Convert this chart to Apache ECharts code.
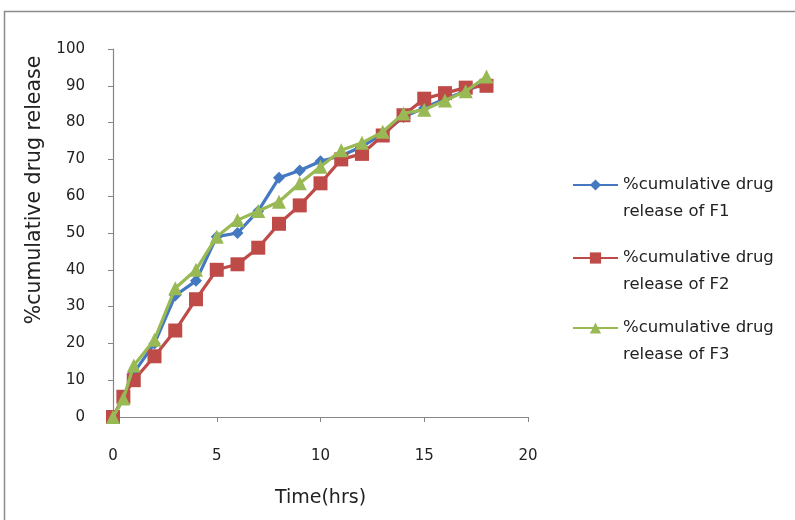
<!DOCTYPE html>
<html>
<head>
<meta charset="utf-8">
<script src="https://cdn.jsdelivr.net/npm/echarts@6/dist/echarts.min.js"></script>
<style>html,body{margin:0;padding:0;background:#fff;}#c{width:795px;height:520px;}</style>
</head>
<body>
<div id="c"></div>
<script>
const timeHrs = [0, 0.5, 1, 2, 3, 4, 5, 6, 7, 8, 9, 10, 11, 12, 13, 14, 15, 16, 17, 18];
const releaseF1 = [0, 5, 12, 20, 33, 37, 49, 50, 56, 65, 67, 69.5, 71, 73.5, 77, 81.5, 84, 86.5, 88.5, 91];
const releaseF2 = [0, 5.5, 10, 16.5, 23.5, 32, 40, 41.5, 46, 52.5, 57.5, 63.5, 70, 71.5, 76.5, 82, 86.5, 88, 89.5, 90];
const releaseF3 = [0, 5, 14, 21, 35, 40, 49, 53.5, 56, 58.5, 63.5, 68, 72.5, 74.5, 77.5, 82.5, 83.5, 86, 88.5, 92.5];
const seriesNames = ['%cumulative drug release of F1', '%cumulative drug release of F2', '%cumulative drug release of F3'];
const xTitle = 'Time(hrs)';
const yTitle = '%cumulative drug release';

const FONT = 'DejaVu Sans';
const colors = ['#4478C0', '#BE4B48', '#98B954'];
const symbols = ['diamond', 'rect', 'triangle'];
const sizes = [12, 14, 14];
const datasets = [releaseF1, releaseF2, releaseF3];

const chart = echarts.init(document.getElementById('c'), null, {renderer: 'canvas'});

const legendTops = [144.5, 217.5, 287.5];
const legends = seriesNames.map((n, i) => ({
  data: [n],
  orient: 'vertical',
  left: 572,
  top: legendTops[i],
  padding: 0,
  itemWidth: 45,
  itemHeight: 14,
  itemGap: 0,
  formatter: s => ' \n' + s.replace(' drug ', ' drug\n'),
  textStyle: {fontFamily: FONT, fontSize: 16.5, color: '#222', lineHeight: 27}
}));

chart.setOption({
  animation: false,
  color: colors,
  graphic: [{
    type: 'rect',
    shape: {x: 4.5, y: 11.5, width: 820, height: 540},
    style: {fill: 'none', stroke: '#8c8c8c', lineWidth: 1.5},
    silent: true
  }],
  grid: {left: 113, right: 267, top: 49, bottom: 103, containLabel: false},
  legend: legends,
  xAxis: {
    type: 'value', min: 0, max: 20, interval: 5,
    name: xTitle, nameLocation: 'middle', nameGap: 72,
    nameTextStyle: {fontFamily: FONT, fontSize: 19, color: '#222'},
    axisLine: {lineStyle: {color: '#868686', width: 1.2}},
    axisTick: {show: true, inside: false, length: 5, lineStyle: {color: '#868686'}},
    axisLabel: {fontFamily: FONT, fontSize: 15, color: '#222', margin: 32},
    splitLine: {show: false}
  },
  yAxis: {
    type: 'value', min: 0, max: 100, interval: 10,
    name: yTitle, nameLocation: 'middle', nameGap: 66, nameRotate: 90,
    nameTextStyle: {fontFamily: FONT, fontSize: 20.5, color: '#222', padding: [0, 0, 0, 86]},
    axisLine: {show: true, lineStyle: {color: '#868686', width: 1.2}},
    axisTick: {show: true, inside: false, length: 5, lineStyle: {color: '#868686'}},
    axisLabel: {fontFamily: FONT, fontSize: 15, color: '#222', margin: 28},
    splitLine: {show: false}
  },
  series: seriesNames.map((n, i) => ({
    name: n,
    type: 'line',
    data: timeHrs.map((t, j) => [t, datasets[i][j]]),
    symbol: symbols[i],
    symbolSize: sizes[i],
    showSymbol: true,
    lineStyle: {width: 3.2, color: colors[i]},
    itemStyle: {color: colors[i]},
    z: 2 + i
  }))
});
</script>
</body>
</html>
